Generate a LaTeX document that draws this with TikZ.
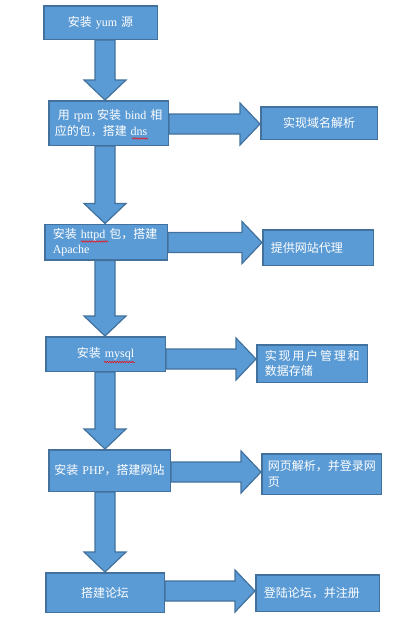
\documentclass[tikz,border=0pt]{standalone}
\usepackage{fontspec}
\setmainfont{Liberation Serif}
\newfontfamily\zhfont{Noto Sans CJK SC}
\newcommand\zh[1]{{\zhfont #1}}
\usetikzlibrary{calc,decorations.pathmorphing}
\definecolor{boxfill}{HTML}{5B9BD5}
\definecolor{boxline}{HTML}{41719C}
\newcommand\dnarrow[2]{\draw[blk] let \p1=(#1.south), \p2=(#2.north), \p3=(105,0) in
  (\x3-10pt,\y1) -- (\x3-10pt,\y2+20pt) -- (\x3-21pt,\y2+20pt) -- (\x3,\y2) --
  (\x3+21pt,\y2+20pt) -- (\x3+10pt,\y2+20pt) -- (\x3+10pt,\y1) -- cycle;}
\newcommand\rtarrow[3]{\draw[blk] let \p1=(#1.east), \p2=(#2.west), \p3=(0,#3) in
  (\x1,\y3+10pt) -- (\x2-20pt,\y3+10pt) -- (\x2-20pt,\y3+21pt) -- (\x2,\y3) --
  (\x2-20pt,\y3-21pt) -- (\x2-20pt,\y3-10pt) -- (\x1,\y3-10pt) -- cycle;}
\begin{document}
\begin{tikzpicture}[x=1pt,y=-1pt,
  box/.style={draw=boxline, fill=boxfill, line width=1.5pt, text=white,
    inner xsep=8pt, inner ysep=0pt, font=\fontsize{12}{15.5}\selectfont},
  blk/.style={draw=boxline, fill=boxfill, line width=1.2pt, line join=miter},
  squig/.style={red, line width=0.5pt, decorate,
    decoration={snake, segment length=2.5pt, amplitude=0.7pt}}]
\fill[white] (0,0) rectangle (410,622);
\useasboundingbox (0,0) rectangle (410,622);
% left column
\node[box, text width=97.5pt, minimum height=33.5pt, align=center] (b1) at (100.5,22.5)
  {\zh{安装} yum \zh{源}};
\node[box, inner xsep=4pt, text width=111.5pt, minimum height=44.5pt, align=left] (b2) at (108.5,123)
  {\mbox{\hspace*{5pt}\zh{用} rpm \zh{安装} bind \zh{相}}\\\hspace*{2pt}\zh{应的包，搭建} dns};
\node[box, text width=106.5pt, minimum height=35.5pt, align=left] (b3) at (106,242)
  {\zh{安装} httpd \zh{包，搭建}\\Apache};
\node[box, text width=103.5pt, minimum height=34.5pt, align=center] (b4) at (105.5,354)
  {\zh{安装} mysql};
\node[box, inner xsep=4pt, text width=113.5pt, minimum height=41.5pt, align=center] (b5) at (109.5,470.5)
  {\zh{安装} PHP\zh{，搭建网站}};
\node[box, text width=102.5pt, minimum height=39.5pt, align=center] (b6) at (105,592.5)
  {\zh{搭建论坛}};
% right column
\node[box, text width=100.5pt, minimum height=32.5pt, align=center] (r2) at (319,123)
  {\zh{实现域名解析}};
\node[box, text width=94.5pt, minimum height=35.5pt, align=left] (r3) at (318,247.5)
  {\zh{提供网站代理}};
\node[box, text width=94.5pt, minimum height=37.5pt, align=left] (r4) at (312,363.5)
  {\hbox to 95pt{\zhfont 实\hfill 现\hfill 用\hfill 户\hfill 管\hfill 理\hfill 和}\\\zh{数据存储}};
\node[box, inner xsep=6pt, text width=107.5pt, minimum height=40.5pt, align=left] (r5) at (321.5,474)
  {\zh{网页解析，并登录网}\\\zh{页}};
\node[box, text width=107.5pt, minimum height=36.5pt, align=left] (r6) at (317.5,593)
  {\zh{登陆论坛，并注册}};
% block arrows
\dnarrow{b1}{b2}
\dnarrow{b2}{b3}
\dnarrow{b3}{b4}
\dnarrow{b4}{b5}
\dnarrow{b5}{b6}
\rtarrow{b2}{r2}{124}
\rtarrow{b3}{r3}{242.5}
\rtarrow{b4}{r4}{359}
\rtarrow{b5}{r5}{472}
\rtarrow{b6}{r6}{591}
% spell-check underlines
\draw[squig] (132,138.5) -- (148,138.5);
\draw[squig] (81,241.5) -- (108,241.5);
\draw[squig] (104,362) -- (135,362);
\end{tikzpicture}
\end{document}
